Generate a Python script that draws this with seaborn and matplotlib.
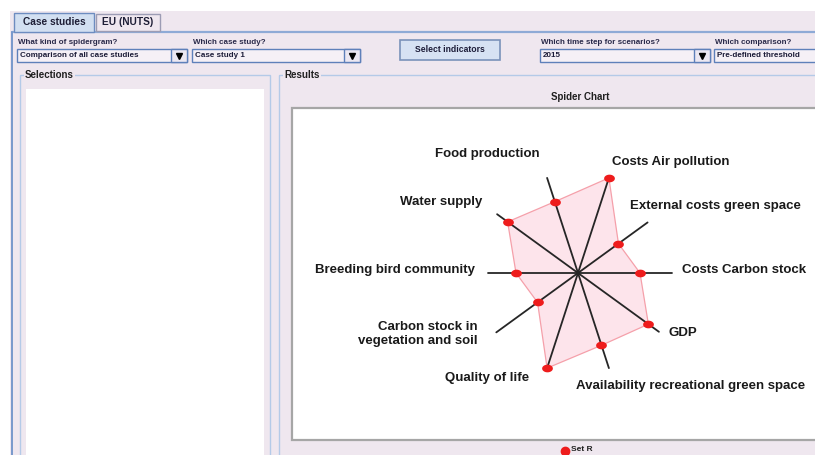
import numpy as np
import matplotlib
matplotlib.use("Agg")
import matplotlib.pyplot as plt
from matplotlib.patches import Rectangle
import seaborn as sns

# spider chart data (clockwise, starting just right of north)
indicators = ["Costs Air pollution", "External costs green space", "Costs Carbon stock",
              "GDP", "Availability recreational green space", "Quality of life",
              "Carbon stock in\nvegetation and soil", "Breeding bird community",
              "Water supply", "Food production"]
set_r = [1.00, 0.50, 0.62, 0.87, 0.76, 1.00, 0.50, 0.62, 0.87, 0.75]
series_name = "Set R"

# gui texts
tabs = ["Case studies", "EU (NUTS)"]
combo_labels = ["What kind of spidergram?", "Which case study?",
                "Which time step for scenarios?", "Which comparison?"]
combo_values = ["Comparison of all case studies", "Case study 1", "2015",
                "Pre-defined threshold"]

# layout only (pixel offsets of labels from spoke ends, spoke lengths)
LABEL_OFFSETS = [(3, -16, "left"), (-29, -8, "left"), (4, -3, "left"), (10, 1, "left"),
                 (-33, 18, "left"), (-18, 10, "right"), (-19, 2, "right"),
                 (-3, -3, "right"), (-15, -12, "right"), (-7, -24, "right")]
SPOKE_LEN = [1.0, 0.86, 0.94, 1.0, 1.0, 1.0, 1.01, 0.9, 1.0, 1.0]

W, H = 815, 455
BG = "#EFE7EF"
BLUE = "#8EAAD6"
LIGHT_BLUE = "#B4CAE8"
TXT = "#2A2A4A"

sns.set_style("white")
plt.rcParams["font.family"] = ["Liberation Sans", "DejaVu Sans"]

fig = plt.figure(figsize=(W / 100, H / 100), dpi=100)
fig.patch.set_facecolor("white")

ui = fig.add_axes([0, 0, 1, 1])
ui.set_xlim(0, W)
ui.set_ylim(H, 0)
ui.axis("off")


def box(x0, y0, x1, y1, fc, ec="none", lw=1.0, z=1):
    ui.add_patch(Rectangle((x0, y0), x1 - x0, y1 - y0, facecolor=fc, edgecolor=ec,
                           linewidth=lw, zorder=z))


def label(x, y, s, size=6, color=TXT, ha="left", bg=None, z=5):
    kw = {}
    if bg:
        kw["bbox"] = dict(facecolor=bg, edgecolor="none", pad=1)
    ui.text(x, y, s, fontsize=size, fontweight="bold", color=color, ha=ha,
            va="center", zorder=z, **kw)


# window background and tab panel
box(10, 11, W + 5, H + 5, BG)
ui.plot([11.5, W], [31.5, 31.5], color=BLUE, lw=1.6, zorder=2)
ui.plot([11.5, 11.5], [31.5, H + 5], color="#7898CC", lw=1.4, zorder=2)

# tabs
box(14, 13, 94, 32, "#D2DFF1", "#6D8CC0", 1.0, z=3)
box(96, 14, 160, 31, BG, "#9C9CB4", 1.0, z=3)
label(54, 22, tabs[0], size=7.3, color="#1E1E36", ha="center")
label(128, 22, tabs[1], size=7.3, color="#1E1E36", ha="center")

# combo boxes
combos = [(17, 187, True), (192, 360, True), (540, 710, True), (714, W + 10, False)]
for (x0, x1, has_btn), lab, val in zip(combos, combo_labels, combo_values):
    label(x0 + 1, 43, lab, size=5.8)
    box(x0, 49, x1, 62, "#F5F0F6", "#5E80BA", 1.0, z=3)
    label(x0 + 3, 55.5, val, size=5.8, color="#1C1C38")
    if has_btn:
        box(x1 - 16, 49, x1, 62, "#ECE8F2", "#5E80BA", 1.0, z=3)
        ui.plot(x1 - 8, 55.5, marker="v", ms=5, color="black", zorder=6)

# button
box(400, 40, 500, 60, "#D6E2F3", "#7A92BA", 1.2, z=3)
label(450, 50, "Select indicators", size=6.2, color="#1C1C38", ha="center")

# group boxes
box(20, 75, 269.5, H + 10, "none", LIGHT_BLUE, 1.0, z=2)
box(26, 89, 264, H + 10, "white", z=3)
label(25, 75, "Selections", size=7, color="#202020", bg=BG)
box(279, 75, W + 10, H + 10, "none", LIGHT_BLUE, 1.0, z=2)
label(284, 75, "Results", size=7, color="#202020", bg=BG)

# chart panel
label(580, 97, "Spider Chart", size=7, color="#202020", ha="center")
box(292, 107.5, W + 10, 440, "white", "#A6A6A6", 1.6, z=3)

# legend at the window bottom
ui.plot(565, 451, marker="o", ms=6, color="#EE1C1C", zorder=6)
label(571, 449.5, series_name, size=6, color="#202020")

# spider chart
cx, cy, R = 578, 273, 100
ax = fig.add_axes([(cx - R) / W, (H - cy - R) / H, 2 * R / W, 2 * R / H],
                  projection="polar", zorder=10)
ax.set_theta_zero_location("N")
ax.set_theta_direction(-1)
ax.set_ylim(0, 1)
ax.axis("off")
ax.patch.set_alpha(0)

n = len(indicators)
theta = np.deg2rad(18 + 360 / n * np.arange(n))
vals = np.array(set_r)

tc = np.append(theta, theta[0])
vc = np.append(vals, vals[0])
ax.fill(tc, vc, facecolor="#FDE4EB", edgecolor="#F5A0AA", linewidth=0.9, zorder=1)

for t, L in zip(theta, SPOKE_LEN):
    ax.plot([t, t], [0, L], color="#262626", lw=1.3, zorder=2, clip_on=False)

tt = np.linspace(0, 2 * np.pi, 40)
ellipse = np.c_[1.4 * np.cos(tt), np.sin(tt)]
sns.scatterplot(x=theta, y=vals, ax=ax, marker=ellipse, s=60, color="#EE1C1C",
                edgecolor="#EE1C1C", linewidth=0, zorder=4, clip_on=False)

for t, name, (dx, dy, ha) in zip(theta, indicators, LABEL_OFFSETS):
    ax.annotate(name, xy=(t, 1.0), xytext=(dx, -dy), textcoords="offset pixels",
                ha=ha, va="center", multialignment="right", fontsize=9.5,
                fontweight="bold", color="#1A1A1A", annotation_clip=False)

fig.savefig("out.png", dpi=100)
